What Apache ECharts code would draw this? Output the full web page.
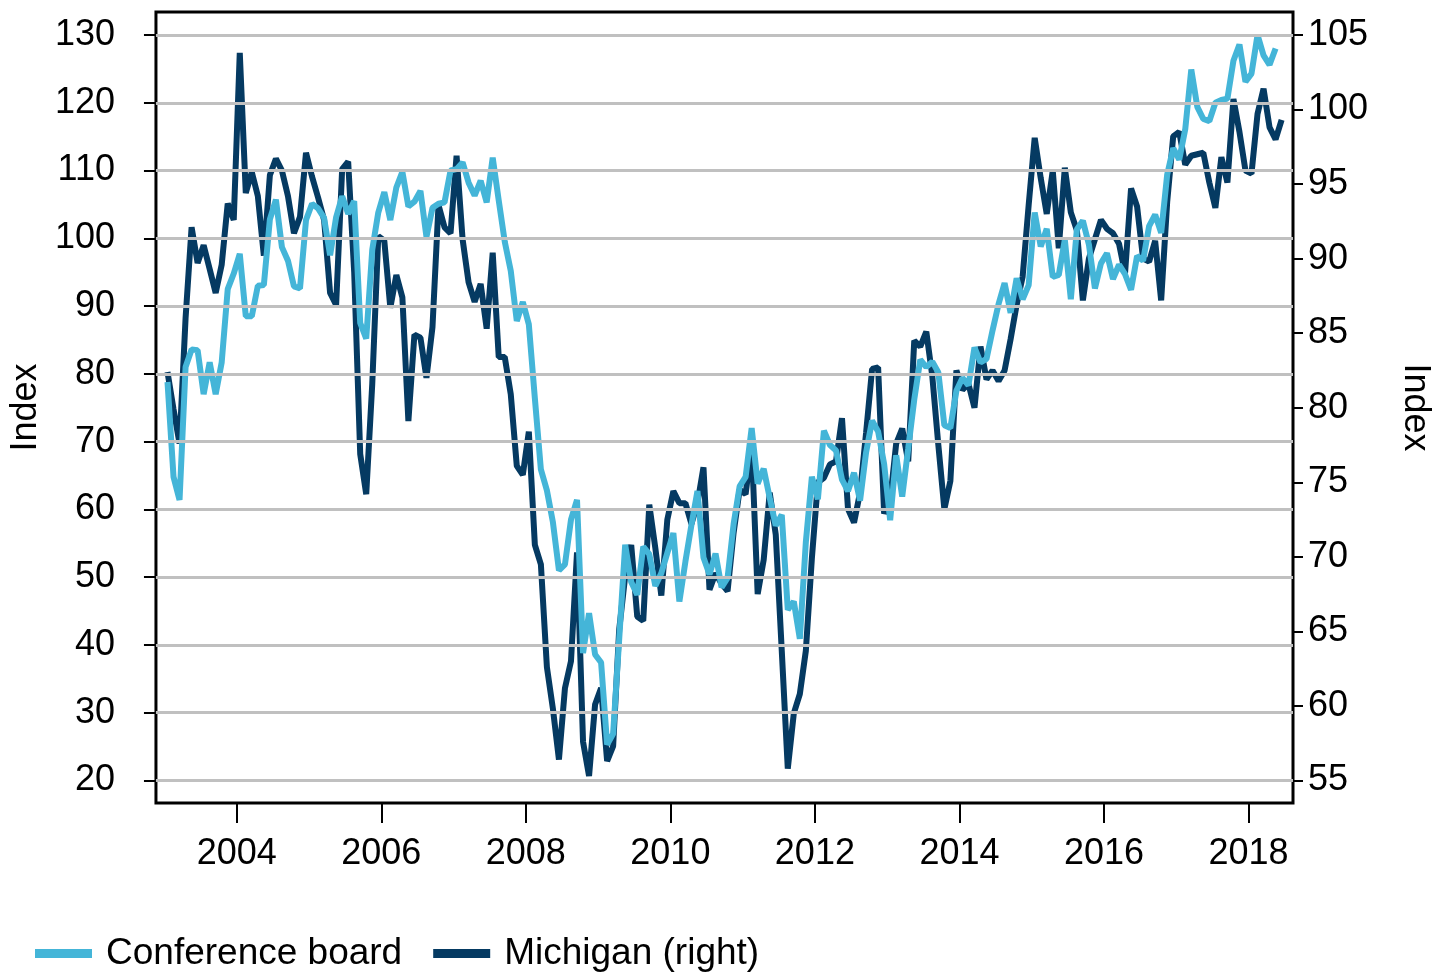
<!DOCTYPE html>
<html>
<head>
<meta charset="utf-8">
<script src="https://cdn.jsdelivr.net/npm/echarts@6/dist/echarts.min.js"></script>
<style>
html,body{margin:0;padding:0;background:#ffffff;}
#chart{width:1441px;height:973px;}
</style>
</head>
<body>
<div id="chart"></div>
<script>
// ---- data (monthly, starting January 2003) ----
const startYear = 2003;
const seriesNames = ['Conference board', 'Michigan (right)'];

const conferenceBoard = [
  78.8, 64.8, 61.4, 81.0, 83.6, 83.5, 77.0, 81.7, 77.0, 81.7, 92.5, 94.8,
  97.7, 88.5, 88.5, 93.0, 93.1, 102.8, 105.7, 98.7, 96.7, 92.9, 92.6, 102.7,
  105.1, 104.4, 103.0, 97.5, 103.1, 106.2, 103.6, 105.5, 87.5, 85.2, 98.3, 103.8,
  106.8, 102.7, 107.5, 109.8, 104.7, 105.4, 107.0, 100.2, 104.5, 105.1, 105.3, 110.0,
  110.2, 111.2, 108.2, 106.3, 108.5, 105.3, 111.9, 105.6, 99.5, 95.2, 87.8, 90.6,
  87.3, 76.4, 65.9, 62.8, 58.1, 51.0, 51.9, 58.5, 61.4, 38.8, 44.7, 38.6,
  37.4, 25.3, 26.9, 40.8, 54.8, 49.3, 47.4, 54.5, 53.4, 48.7, 50.6, 53.6,
  56.5, 46.4, 52.3, 57.7, 62.7, 52.9, 50.4, 53.5, 48.5, 49.9, 57.8, 63.4,
  64.8, 72.0, 63.8, 66.0, 61.7, 57.6, 59.2, 45.2, 46.4, 40.9, 55.2, 64.8,
  61.5, 71.6, 69.5, 68.7, 64.4, 62.7, 65.4, 61.3, 68.4, 73.1, 71.5, 66.7,
  58.4, 68.0, 61.9, 69.0, 76.2, 82.1, 81.0, 81.8, 80.2, 72.4, 72.0, 77.5,
  79.4, 78.3, 83.9, 81.7, 82.2, 86.4, 90.3, 93.4, 89.0, 94.1, 91.0, 93.1,
  103.8, 98.8, 101.4, 94.3, 94.6, 99.8, 91.0, 101.3, 102.6, 99.1, 92.6, 96.3,
  97.8, 94.0, 96.1, 94.7, 92.4, 97.4, 96.7, 101.8, 103.5, 100.8, 109.4, 113.3,
  111.6, 116.1, 124.9, 119.4, 117.6, 117.3, 120.0, 120.4, 120.6, 126.2, 128.6, 123.1,
  124.3, 130.0, 127.0, 125.6, 128.0
];

const michigan = [
  82.4, 79.9, 77.6, 86.0, 92.1, 89.7, 90.9, 89.3, 87.7, 89.6, 93.7, 92.6,
  103.8, 94.4, 95.8, 94.2, 90.2, 95.6, 96.7, 95.9, 94.2, 91.7, 92.8, 97.1,
  95.5, 94.1, 92.6, 87.7, 86.9, 96.0, 96.5, 89.1, 76.9, 74.2, 81.6, 91.5,
  91.2, 86.7, 88.9, 87.4, 79.1, 84.9, 84.7, 82.0, 85.4, 93.6, 92.1, 91.7,
  96.9, 91.3, 88.4, 87.1, 88.3, 85.3, 90.4, 83.4, 83.4, 80.9, 76.1, 75.5,
  78.4, 70.8, 69.5, 62.6, 59.8, 56.4, 61.2, 63.0, 70.3, 57.6, 55.3, 60.1,
  61.2, 56.3, 57.3, 65.1, 68.7, 70.8, 66.0, 65.7, 73.5, 70.6, 67.4, 72.5,
  74.4, 73.6, 73.6, 72.2, 73.6, 76.0, 67.8, 68.9, 68.2, 67.7, 71.6, 74.5,
  74.2, 77.5, 67.5, 69.8, 74.3, 71.5, 63.7, 55.8, 59.5, 60.8, 63.7, 69.9,
  75.0, 75.3, 76.2, 76.4, 79.3, 73.2, 72.3, 74.3, 78.3, 82.6, 82.7, 72.9,
  73.8, 77.6, 78.6, 76.4, 84.5, 84.1, 85.1, 82.1, 77.5, 73.2, 75.1, 82.5,
  81.2, 81.6, 80.0, 84.1, 81.9, 82.5, 81.8, 82.5, 84.6, 86.9, 88.8, 93.6,
  98.1, 95.4, 93.0, 95.9, 90.7, 96.1, 93.1, 91.9, 87.2, 90.0, 91.3, 92.6,
  92.0, 91.7, 91.0, 89.0, 94.7, 93.5, 90.0, 89.8, 91.2, 87.2, 93.8, 98.2,
  98.5, 96.3, 96.9, 97.0, 97.1, 95.1, 93.4, 96.8, 95.1, 100.7, 98.5, 95.9,
  95.7, 99.7, 101.4, 98.8, 98.0, 99.3
];

const yearTicks = [2004, 2006, 2008, 2010, 2012, 2014, 2016, 2018];
const leftTicks = [20, 30, 40, 50, 60, 70, 80, 90, 100, 110, 120, 130];
const rightTicks = [55, 60, 65, 70, 75, 80, 85, 90, 95, 100, 105];

// ---- build ----
const LIGHT = '#44b5d8';
const DARK = '#053a62';
const FONT = '"Liberation Sans", Arial, Helvetica, sans-serif';

function toPoints(vals) {
  return vals.map((v, i) => [startYear + (i + 0.5) / 12, v]);
}

const chart = echarts.init(document.getElementById('chart'), null, {renderer: 'canvas'});

const yCommon = {
  type: 'value',
  nameLocation: 'middle',
  nameTextStyle: {fontSize: 36, color: '#000', fontFamily: FONT},
  axisLine: {show: false},
  splitLine: {show: false}
};

chart.setOption({
  animation: false,
  backgroundColor: '#ffffff',
  textStyle: {fontFamily: FONT, color: '#000'},
  grid: {
    left: 151, right: 143, top: 12, bottom: 170,
    show: true, borderColor: '#000', borderWidth: 3,
    backgroundColor: 'transparent'
  },
  legend: {
    data: seriesNames,
    left: 30, top: 930,
    icon: 'rect',
    itemWidth: 57, itemHeight: 9, itemGap: 31,
    textStyle: {fontSize: 37, color: '#000', fontFamily: FONT, padding: [0, 0, 0, 9]}
  },
  xAxis: {
    type: 'value',
    min: 2002.882, max: 2018.616,
    axisLine: {show: false},
    splitLine: {show: false},
    axisTick: {show: true, customValues: yearTicks, length: 20, lineStyle: {color: '#000', width: 2}},
    axisLabel: {
      customValues: yearTicks, fontSize: 36, color: '#000', margin: 33,
      fontFamily: FONT, formatter: v => String(Math.round(v))
    }
  },
  yAxis: [
    Object.assign({}, yCommon, {
      position: 'left',
      min: 16.68, max: 133.39,
      name: 'Index', nameGap: 101,
      axisTick: {show: true, customValues: leftTicks, length: 12, lineStyle: {color: '#000', width: 2}},
      axisLabel: {customValues: leftTicks, fontSize: 36, color: '#000', margin: 41, fontFamily: FONT,
        formatter: v => String(Math.round(v))}
    }),
    Object.assign({}, yCommon, {
      position: 'right',
      min: 53.49, max: 106.54,
      name: 'Index', nameGap: 104, nameRotate: -90,
      axisTick: {show: true, customValues: rightTicks, length: 10, lineStyle: {color: '#000', width: 2}},
      axisLabel: {customValues: rightTicks, fontSize: 36, color: '#000', margin: 15, fontFamily: FONT,
        formatter: v => String(Math.round(v))}
    })
  ],
  series: [
    {
      name: 'gridlines', type: 'line', data: [], yAxisIndex: 0, silent: true, z: 1,
      markLine: {
        silent: true, animation: false, symbol: ['none', 'none'],
        label: {show: false},
        lineStyle: {color: '#c0c0c0', width: 3, type: 'solid'},
        emphasis: {disabled: true},
        data: leftTicks.map(v => ({yAxis: v}))
      }
    },
    {
      name: seriesNames[1], type: 'line', yAxisIndex: 1,
      data: toPoints(michigan),
      symbol: 'none', showSymbol: false,
      lineStyle: {color: DARK, width: 6},
      itemStyle: {color: DARK},
      z: 3
    },
    {
      name: seriesNames[0], type: 'line', yAxisIndex: 0,
      data: toPoints(conferenceBoard),
      symbol: 'none', showSymbol: false,
      lineStyle: {color: LIGHT, width: 6},
      itemStyle: {color: LIGHT},
      z: 4
    }
  ]
});
</script>
</body>
</html>
